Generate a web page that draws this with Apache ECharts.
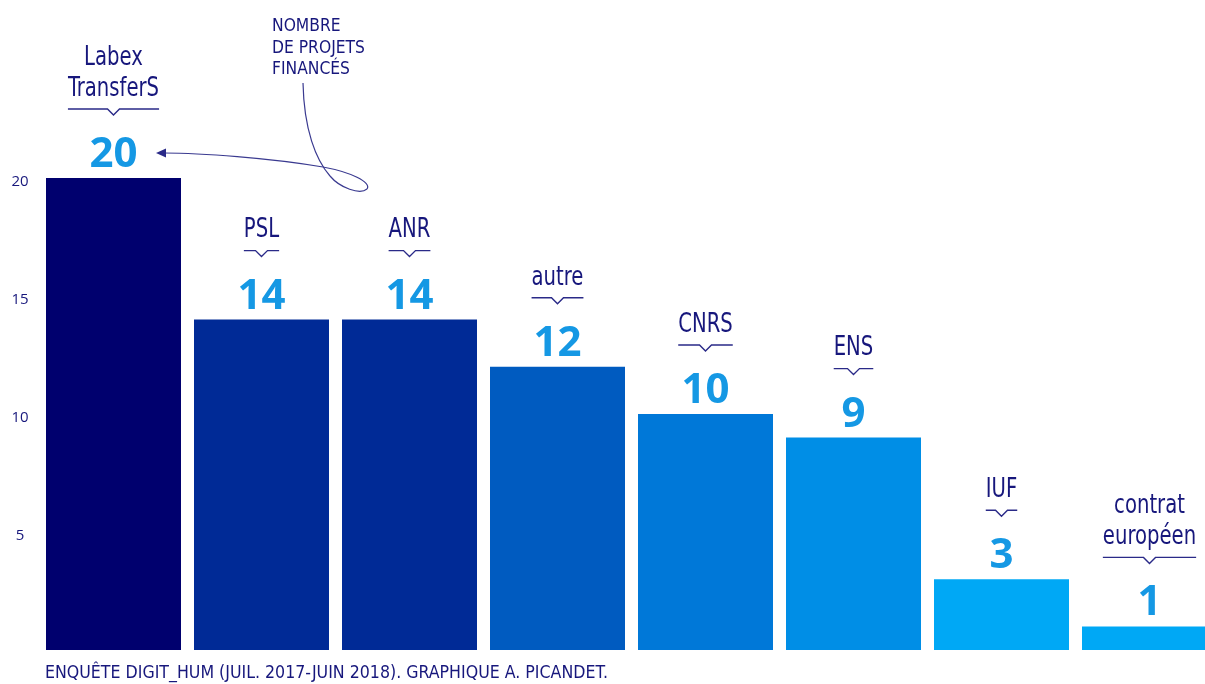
<!DOCTYPE html>
<html>
<head>
<meta charset="utf-8">
<script src="https://cdn.jsdelivr.net/npm/echarts@6/dist/echarts.min.js"></script>
<style>
html,body{margin:0;padding:0;background:#fff;}
#chart{width:1205px;height:684px;}
</style>
</head>
<body>
<div id="chart"></div>
<script>
const categories = ['Labex\nTransferS', 'PSL', 'ANR', 'autre', 'CNRS', 'ENS', 'IUF', 'contrat\neuropéen'];
const values = [20, 14, 14, 12, 10, 9, 3, 1];
const barColors = ['#00006e', '#002a96', '#002a96', '#005bc0', '#0078d8', '#008ee6', '#00a8f5', '#00a8f5'];
const annotationText = 'NOMBRE\nDE PROJETS\nFINANCÉS';
const captionText = 'ENQUÊTE DIGIT_HUM (JUIL. 2017-JUIN 2018). GRAPHIQUE A. PICANDET.';

const NARROW = '"DejaVu Sans Condensed", "DejaVu Sans", sans-serif';
const NAME_FONT = '26px ' + NARROW;
const NAME_SCALE = 0.84;
const VAL_FONT = 'bold 42px "Open Sans", "Noto Sans", sans-serif';
const NAVY = '#17177c';
const CAPTION_FONT = '18px ' + NARROW;

const measureCtx = document.createElement('canvas').getContext('2d');
function textWidth(t, font) { measureCtx.font = font; return measureCtx.measureText(t).width; }

function renderItem(params, api) {
  const i = api.value(0), v = api.value(1);
  const p = api.coord([i, v]);
  const cx = p[0], top = p[1];
  const lines = categories[i].split('\n');
  const children = [];
  const lastY = top - 89;
  let w = 0;
  lines.forEach(function (ln, k) {
    w = Math.max(w, textWidth(ln, NAME_FONT) * NAME_SCALE);
    children.push({
      type: 'text',
      x: cx, y: lastY - (lines.length - 1 - k) * 31, scaleX: NAME_SCALE,
      style: { text: ln, x: 0, y: 0, font: NAME_FONT, fill: NAVY,
               textAlign: 'center', textVerticalAlign: 'middle', align: 'center', verticalAlign: 'middle' }
    });
  });
  const half = w / 2;
  const ly = top - 69;
  children.push({
    type: 'polyline',
    shape: { points: [[cx - half, ly], [cx - 6, ly], [cx, ly + 6], [cx + 6, ly], [cx + half, ly]] },
    style: { stroke: '#2a2a88', lineWidth: 1.4, fill: null }
  });
  children.push({
    type: 'text',
    style: { text: String(v), x: cx, y: top - 23, font: VAL_FONT, fill: '#1598e4',
             textAlign: 'center', textVerticalAlign: 'middle', align: 'center', verticalAlign: 'middle' }
  });
  return { type: 'group', children: children };
}

function curve(x1, y1, c1x, c1y, c2x, c2y, x2, y2) {
  return {
    type: 'bezierCurve',
    shape: { x1: x1, y1: y1, cpx1: c1x, cpy1: c1y, cpx2: c2x, cpy2: c2y, x2: x2, y2: y2 },
    style: { stroke: '#3a3a90', lineWidth: 1.2, fill: null }
  };
}

const captionScale = 563 / textWidth(captionText, CAPTION_FONT);

const chart = echarts.init(document.getElementById('chart'), null, { renderer: 'canvas' });
chart.setOption({
  animation: false,
  backgroundColor: '#ffffff',
  grid: { left: 39.5, width: 1184, top: 178, bottom: 34, containLabel: false, outerBoundsMode: 'none' },
  xAxis: {
    type: 'category',
    data: categories,
    show: false
  },
  yAxis: {
    type: 'value',
    min: 0, max: 20, interval: 5,
    axisLine: { show: false },
    axisTick: { show: false },
    splitLine: { show: false },
    axisLabel: {
      showMinLabel: false,
      align: 'center',
      verticalAlign: 'top',
      lineHeight: 7,
      margin: 19.5,
      color: NAVY,
      fontSize: 15,
      fontFamily: '"Open Sans", "Noto Sans", sans-serif',
      formatter: function (v) { return v === 0 ? '' : String(v); }
    }
  },
  series: [
    {
      type: 'bar',
      barWidth: 135,
      data: values.map(function (v, i) { return { value: v, itemStyle: { color: barColors[i] } }; }),
      z: 2
    },
    {
      type: 'custom',
      renderItem: renderItem,
      clip: false,
      encode: { x: 0, y: 1 },
      data: values.map(function (v, i) { return [i, v]; }),
      z: 5
    }
  ],
  graphic: [
    {
      type: 'text', x: 272, y: 16, scaleX: 0.96,
      style: { text: annotationText, font: '18px ' + NARROW, fill: NAVY, lineHeight: 21.5 }
    },
    curve(303, 83, 304, 130, 316, 160, 330, 176),
    curve(330, 176, 340, 188, 360, 195, 367, 189),
    curve(367, 189, 372, 182, 350, 172, 323, 167),
    curve(323, 167, 270, 158, 200, 153, 164, 153),
    {
      type: 'polygon',
      shape: { points: [[156, 153], [166, 148.5], [166, 157.5]] },
      style: { fill: '#2a2a88' }
    },
    {
      type: 'text', x: 45, y: 664, scaleX: captionScale,
      style: { text: captionText, font: CAPTION_FONT, fill: NAVY }
    }
  ]
});
</script>
</body>
</html>
